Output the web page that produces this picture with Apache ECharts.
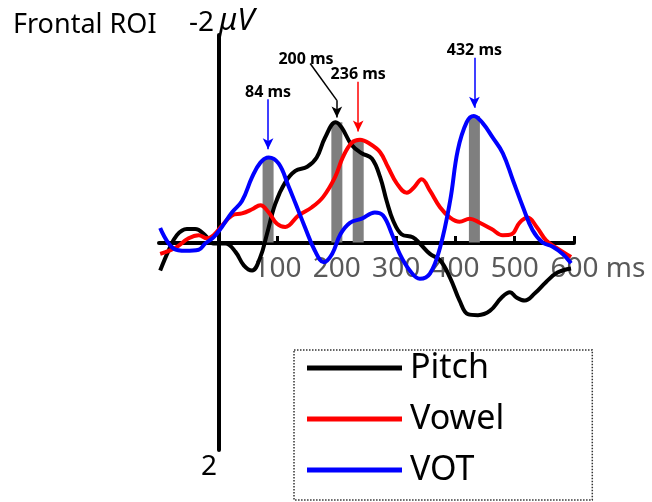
<!DOCTYPE html>
<html>
<head>
<meta charset="utf-8">
<script src="https://cdn.jsdelivr.net/npm/echarts@6/dist/echarts.min.js"></script>
<style>
  html, body { margin: 0; padding: 0; background: #fff; }
  #chart { width: 652px; height: 502px; }
</style>
</head>
<body>
<div id="chart"></div>
<script>
  // time (ms) / amplitude (uV) pairs, negative is up
  var pitch = [
    [-98,0.27],[-84,0.08],[-70,-0.07],[-53,-0.13],[-39,-0.13],[-22,-0.07],[-8,0.01],[12,0.01],
    [29,0.09],[43,0.22],[57,0.27],[71,0.14],[82,-0.08],[96,-0.37],[113,-0.58],[130,-0.69],
    [150,-0.73],[166,-0.82],[180,-1.01],[198,-1.16],[208,-1.11],[225,-0.94],[242,-0.86],[259,-0.81],
    [273,-0.63],[284,-0.40],[295,-0.21],[309,-0.08],[328,-0.05],[340,0.01],[357,0.11],[374,0.17],
    [391,0.34],[407,0.56],[421,0.69],[438,0.70],[458,0.66],[478,0.53],[492,0.48],[503,0.53],
    [517,0.56],[534,0.49],[553,0.38],[572,0.29],[595,0.25]
  ];
  var vowel = [
    [-98,0.11],[-72,0.05],[-50,-0.04],[-33,-0.07],[-19,-0.04],[-8,-0.07],[6,-0.16],[23,-0.26],
    [40,-0.28],[57,-0.32],[71,-0.36],[85,-0.29],[99,-0.18],[113,-0.15],[135,-0.26],[158,-0.34],
    [177,-0.44],[197,-0.63],[210,-0.82],[225,-0.96],[239,-0.99],[256,-0.95],[273,-0.87],[286,-0.73],
    [301,-0.57],[318,-0.48],[330,-0.53],[343,-0.61],[357,-0.50],[374,-0.34],[391,-0.24],[407,-0.20],
    [424,-0.23],[441,-0.19],[461,-0.13],[480,-0.07],[495,-0.08],[508,-0.19],[522,-0.24],[537,-0.15],
    [553,-0.02],[570,0.05],[595,0.14]
  ];
  var vot = [
    [-98,-0.14],[-75,0.06],[-55,0.08],[-33,0.07],[-22,0.01],[-8,-0.05],[6,-0.15],[23,-0.29],
    [40,-0.40],[57,-0.63],[71,-0.77],[85,-0.82],[102,-0.76],[118,-0.55],[130,-0.38],[146,-0.15],
    [163,0.08],[178,0.19],[192,0.11],[206,-0.08],[222,-0.19],[242,-0.23],[264,-0.29],[278,-0.26],
    [293,-0.08],[306,0.11],[323,0.27],[340,0.35],[357,0.30],[374,0.05],[391,-0.40],[404,-0.89],
    [419,-1.16],[431,-1.22],[446,-1.15],[463,-1.01],[480,-0.86],[497,-0.60],[514,-0.34],[530,-0.12],
    [547,0.00],[564,0.04],[581,0.11],[595,0.20]
  ];

  var seriesNames = ['Pitch', 'Vowel', 'VOT'];
  var peakTimes = [84, 200, 236, 432];
  var peakValues = [-0.82, -1.16, -0.99, -1.22];
  var peakLabels = ['84 ms', '200 ms', '236 ms', '432 ms'];
  var xTicks = [100, 200, 300, 400, 500, 600];
  var yEnds = [-2, 2];

  var colors = ['#000000', '#ff0000', '#0000ff'];
  var peakColors = ['#0000ff', '#000000', '#ff0000', '#0000ff'];
  var font = 'Noto Sans';

  var myChart = echarts.init(document.getElementById('chart'));

  var bars = [], arrows = [], texts = [];
  for (var i = 0; i < peakTimes.length; i++) {
    var t = peakTimes[i], v = peakValues[i];
    var ls = { color: peakColors[i], width: 1.5, type: 'solid' };
    bars.push([t, v]);
    if (i === 1) {
      // the 200 ms label sits to the left, arrow has a bend
      arrows.push([{ coord: [t - 45, v - 0.565], symbol: 'none', lineStyle: ls }, { coord: [t, v - 0.21], symbol: 'none' }]);
      arrows.push([{ coord: [t, v - 0.21], symbol: 'none', lineStyle: ls }, { coord: [t, v - 0.045] }]);
      texts.push({ name: peakLabels[i], coord: [t - 52, v - 0.6] });
    } else {
      arrows.push([{ coord: [t, v - 0.56], symbol: 'none', lineStyle: ls }, { coord: [t, v - 0.08] }]);
      texts.push({ name: peakLabels[i], coord: [t, v - 0.63] });
    }
  }

  var series = [];
  var lines = [pitch, vowel, vot];
  for (var k = 0; k < lines.length; k++) {
    series.push({
      name: seriesNames[k],
      type: 'line',
      data: lines[k],
      smooth: 0.4,
      symbol: 'none',
      z: 3,
      itemStyle: { color: colors[k] },
      lineStyle: { color: colors[k], width: 4 }
    });
  }
  series.push({
    name: 'peaks',
    type: 'bar',
    data: bars,
    barWidth: 11,
    z: 2,
    itemStyle: { color: '#7f7f7f' },
    markLine: {
      silent: true,
      symbol: ['none', 'arrow'],
      symbolSize: [8, 11],
      label: { show: false },
      data: arrows
    },
    markPoint: {
      silent: true,
      symbol: 'rect',
      symbolSize: 1,
      itemStyle: { color: 'rgba(0,0,0,0)' },
      label: {
        show: true,
        position: 'inside',
        formatter: '{b}',
        color: '#000',
        fontFamily: font,
        fontWeight: 'bold',
        fontSize: 16
      },
      data: texts
    }
  });

  var option = {
    animation: false,
    backgroundColor: '#fff',
    title: {
      text: 'Frontal ROI',
      left: 8,
      top: 7,
      textStyle: { color: '#000', fontFamily: font, fontSize: 27, fontWeight: 'normal' }
    },
    legend: {
      data: seriesNames,
      orient: 'vertical',
      left: 294,
      top: 350,
      padding: [1, 88, 13, 13],
      itemWidth: 95,
      itemHeight: 5,
      itemGap: 17,
      icon: 'rect',
      borderColor: '#333',
      borderWidth: 1.5,
      borderType: 'dotted',
      textStyle: { color: '#000', fontFamily: font, fontSize: 34, lineHeight: 34, padding: [0, 0, 0, 3] }
    },
    grid: { left: 159, right: 78, top: 35, bottom: 52 },
    xAxis: {
      type: 'value',
      min: -100,
      max: 600,
      position: 'bottom',
      // pull the whole axis (line, ticks, labels) up to the 0 uV level
      offset: -207,
      splitLine: { show: false },
      axisLine: { onZero: false, lineStyle: { color: '#000', width: 4 } },
      axisTick: { customValues: xTicks, inside: true, length: 7, lineStyle: { color: '#000', width: 3 } },
      axisLabel: {
        customValues: xTicks,
        margin: 12,
        color: '#595959',
        fontFamily: font,
        fontSize: 28,
        formatter: function (value) {
          return value === 600 ? '{n|600}{u| ms}' : String(value);
        },
        rich: {
          n: { color: '#595959', fontFamily: font, fontSize: 28, padding: [0, 0, 0, 48] },
          u: { color: '#595959', fontFamily: font, fontSize: 28 }
        }
      }
    },
    yAxis: {
      type: 'value',
      inverse: true,
      min: yEnds[0],
      max: yEnds[1],
      interval: 2,
      splitLine: { show: false },
      axisLine: { onZero: true, lineStyle: { color: '#000', width: 4 } },
      axisTick: { show: false },
      axisLabel: { show: false }
    },
    graphic: [
      { type: 'text', left: 189, top: 9, style: { text: String(yEnds[0]), fill: '#000', font: '28px "Noto Sans"' } },
      { type: 'text', left: 219, top: 6, style: { text: 'μV', fill: '#000', font: 'italic 31px "Noto Sans"' } },
      { type: 'text', left: 201, top: 453, style: { text: String(yEnds[1]), fill: '#000', font: '28px "Noto Sans"' } }
    ],
    series: series
  };

  myChart.setOption(option);
</script>
</body>
</html>
